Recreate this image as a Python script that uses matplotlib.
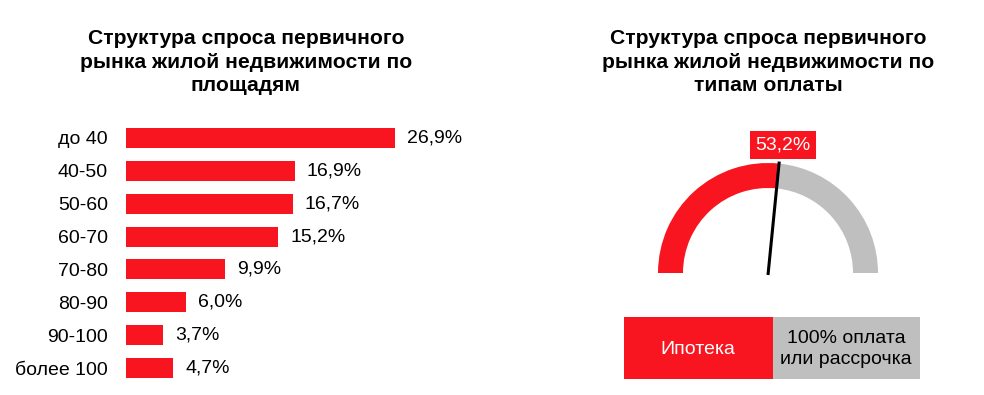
import numpy as np
import matplotlib.pyplot as plt
from matplotlib.patches import Wedge, Rectangle

plt.rcParams['font.family'] = ['Liberation Sans', 'DejaVu Sans']

RED = '#F8151F'
GRAY = '#BFBFBF'

categories = ['до 40', '40-50', '50-60', '60-70', '70-80', '80-90', '90-100', 'более 100']
shares = [26.9, 16.9, 16.7, 15.2, 9.9, 6.0, 3.7, 4.7]
mortgage_share = 53.2
legend_labels = ['Ипотека', '100% оплата\nили рассрочка']
title_left = 'Структура спроса первичного\nрынка жилой недвижимости по\nплощадям'
title_right = 'Структура спроса первичного\nрынка жилой недвижимости по\nтипам оплаты'

W, H = 984, 395
fig = plt.figure(figsize=(W / 100, H / 100), dpi=100)

# left: horizontal bars (10 px per percent)
ax = fig.add_axes([126 / W, 1 - 384.5 / H, 300 / W, 263 / H])
y = np.arange(len(categories))
ax.barh(y, shares, height=0.61, color=RED)
for yi, v in zip(y, shares):
    ax.text(v + 1.2, yi, f'{v:.1f}%'.replace('.', ','), va='center', ha='left', fontsize=14)
ax.set_xlim(0, 30)
ax.set_ylim(len(categories) - 0.5, -0.5)
ax.set_yticks(y)
ax.set_yticklabels(categories, fontsize=14)
ax.tick_params(axis='y', length=0, pad=13)
ax.set_xticks([])
for s in ax.spines.values():
    s.set_visible(False)

fig.text(246 / W, 1 - 62 / H, title_left, ha='center', va='center', fontsize=15.2,
         fontweight='bold', linespacing=1.3)
fig.text(768 / W, 1 - 62 / H, title_right, ha='center', va='center', fontsize=15.2,
         fontweight='bold', linespacing=1.3)

# right: gauge, pixel coordinates (y up)
ax2 = fig.add_axes([600 / W, 0, 384 / W, 1])
ax2.set_xlim(600, 984)
ax2.set_ylim(0, H)
ax2.axis('off')
cx, cy, r_out, ring = 768, H - 273, 110, 25
split = 180 - mortgage_share / 100 * 180
ax2.add_patch(Wedge((cx, cy), r_out, split, 180, width=ring, color=RED, lw=0))
ax2.add_patch(Wedge((cx, cy), r_out, 0, split, width=ring, color=GRAY, lw=0))
ang = np.deg2rad(split)
tip = (cx + 112 * np.cos(ang), cy + 112 * np.sin(ang))
ax2.plot([cx, tip[0]], [cy - 2, tip[1]], color='black', lw=2.2, solid_capstyle='butt')
ax2.text(tip[0] + 4, H - 145, f'{mortgage_share:.1f}%'.replace('.', ','), ha='center', va='center',
         color='white', fontsize=14,
         bbox=dict(boxstyle='square,pad=0.28', fc=RED, ec='none'))

# legend boxes
ax2.add_patch(Rectangle((624, H - 379), 149, 62, color=RED, lw=0))
ax2.add_patch(Rectangle((773, H - 379), 147, 62, color=GRAY, lw=0))
ax2.text(698, H - 349, legend_labels[0], ha='center', va='center', color='white', fontsize=14)
ax2.text(846, H - 349, legend_labels[1], ha='center', va='center', color='black', fontsize=14,
         linespacing=1.25)

fig.savefig('out.png', dpi=100)
